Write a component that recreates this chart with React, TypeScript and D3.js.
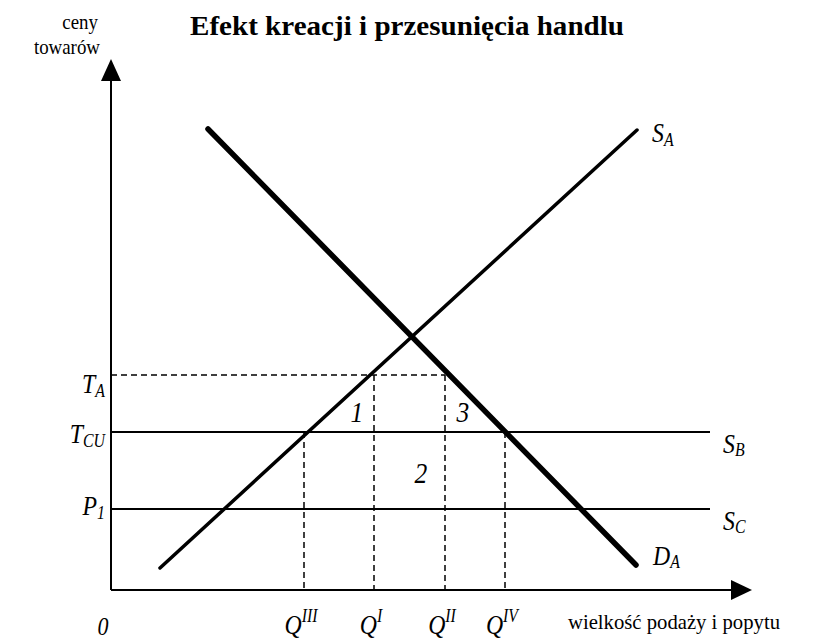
import React from "react";
import * as d3 from "d3";

// Data in diagram units (quantity on x, price on y)
const supplyA: [number, number][] = [[49, 22], [526, 460]];
const demandA: [number, number][] = [[97, 461], [525, 25]];
const priceLevels = [
  { key: "TA", main: "T", sub: "A", value: 215, off: 18 },
  { key: "TCU", main: "T", sub: "CU", value: 158, off: 11 },
  { key: "P1", main: "P", sub: "1", value: 81, off: 6 },
];
const quantities = [
  { key: "QIII", sup: "III", value: 193, from: 158 },
  { key: "QI", sup: "I", value: 263, from: 215 },
  { key: "QII", sup: "II", value: 334, from: 215 },
  { key: "QIV", sup: "IV", value: 394, from: 158 },
];
const supplyLines = [
  { main: "S", sub: "B", value: 158 },
  { main: "S", sub: "C", value: 81 },
];
const areaLabels = [
  { text: "1", x: 246, y: 168 },
  { text: "3", x: 352, y: 168 },
  { text: "2", x: 310, y: 107 },
];
const horizEnd = 599;
const taEnd = 334;

const W = 836;
const H = 640;
const x = d3.scaleLinear().domain([0, 640]).range([111, 751]);
const y = d3.scaleLinear().domain([0, 528]).range([590, 62]);

const line = d3
  .line<[number, number]>()
  .x((d) => x(d[0]))
  .y((d) => y(d[1]));

const serif = "'Liberation Serif', 'Times New Roman', serif";

type LProps = {
  x: number;
  y: number;
  size: number;
  sx?: number;
  anchor?: "start" | "middle" | "end";
  italic?: boolean;
  children: React.ReactNode;
};

function L({ x, y, size, sx = 0.88, anchor = "start", italic = true, children }: LProps) {
  return (
    <text
      transform={`translate(${x},${y}) scale(${sx},1)`}
      textAnchor={anchor}
      fontSize={size}
      fontStyle={italic ? "italic" : "normal"}
    >
      {children}
    </text>
  );
}

export default function App() {
  return (
    <svg
      width={W}
      height={H}
      style={{ position: "absolute", left: 0, top: 0, background: "#fff" }}
      fontFamily={serif}
    >
      <rect width={W} height={H} fill="#fff" />
      {/* title */}
      <text
        x={407}
        y={35}
        textAnchor="middle"
        fontSize={28}
        fontWeight="bold"
        textLength={434}
        lengthAdjust="spacingAndGlyphs"
      >
        Efekt kreacji i przesunięcia handlu
      </text>
      <text x={770} y={-6} fontSize={22} textAnchor="middle">y</text>

      {/* axis labels */}
      <L x={98} y={29} size={21} sx={0.9} anchor="end" italic={false}>ceny</L>
      <L x={100} y={54} size={21} sx={0.9} anchor="end" italic={false}>towarów</L>
      <text x={568} y={629} fontSize={21} textLength={212} lengthAdjust="spacingAndGlyphs">
        wielkość podaży i popytu
      </text>
      <L x={103} y={635} size={25} anchor="middle">0</L>

      {/* axes */}
      <line x1={x(0)} y1={y(0)} x2={x(0)} y2={y(0) - 510} stroke="#000" strokeWidth={2} />
      <polygon
        points={`${x(0)},${y(0) - 531} ${x(0) - 10},${y(0) - 509} ${x(0) + 10},${y(0) - 509}`}
        fill="#000"
      />
      <line x1={x(0)} y1={y(0)} x2={x(0) + 625} y2={y(0)} stroke="#000" strokeWidth={2} />
      <polygon
        points={`${x(0) + 641},${y(0)} ${x(0) + 620},${y(0) - 10} ${x(0) + 620},${y(0) + 10}`}
        fill="#000"
      />

      {/* dashed T_A line */}
      <line
        x1={x(0)}
        y1={y(priceLevels[0].value)}
        x2={x(taEnd)}
        y2={y(priceLevels[0].value)}
        stroke="#000"
        strokeWidth={1.5}
        strokeDasharray="6,4"
      />
      {/* dashed verticals */}
      {quantities.map((q) => (
        <line
          key={q.key}
          x1={x(q.value)}
          x2={x(q.value)}
          y1={y(q.from)}
          y2={y(0)}
          stroke="#000"
          strokeWidth={1.5}
          strokeDasharray="6,4"
        />
      ))}

      {/* horizontal supply lines */}
      {supplyLines.map((s) => (
        <line
          key={s.sub}
          x1={x(0)}
          x2={x(horizEnd)}
          y1={y(s.value)}
          y2={y(s.value)}
          stroke="#000"
          strokeWidth={2}
        />
      ))}

      {/* supply & demand curves */}
      <path d={line(supplyA) || ""} stroke="#000" strokeWidth={3.5} fill="none" strokeLinecap="round" />
      <path d={line(demandA) || ""} stroke="#000" strokeWidth={5.5} fill="none" strokeLinecap="round" />

      {/* price labels */}
      {priceLevels.map((p) => (
        <L key={p.key} x={105} y={y(p.value) + p.off} size={27} anchor="end">
          {p.main}
          <tspan fontSize={18} dy={4}>{p.sub}</tspan>
        </L>
      ))}

      {/* curve labels */}
      <L x={652} y={142} size={27}>
        S<tspan fontSize={18} dy={4}>A</tspan>
      </L>
      {supplyLines.map((s) => (
        <L key={"l" + s.sub} x={723} y={y(s.value) + 21} size={27}>
          {s.main}
          <tspan fontSize={18} dy={3}>{s.sub}</tspan>
        </L>
      ))}
      <L x={653} y={565} size={27}>
        D<tspan fontSize={18} dy={3}>A</tspan>
      </L>

      {/* area labels */}
      {areaLabels.map((a) => (
        <L key={a.text} x={x(a.x)} y={y(a.y)} size={29} anchor="middle">
          {a.text}
        </L>
      ))}

      {/* quantity labels */}
      {quantities.map((q) => (
        <L key={"t" + q.key} x={x(q.value) - 3} y={634} size={27} anchor="middle">
          Q<tspan fontSize={18} dy={-12}>{q.sup}</tspan>
        </L>
      ))}
    </svg>
  );
}
